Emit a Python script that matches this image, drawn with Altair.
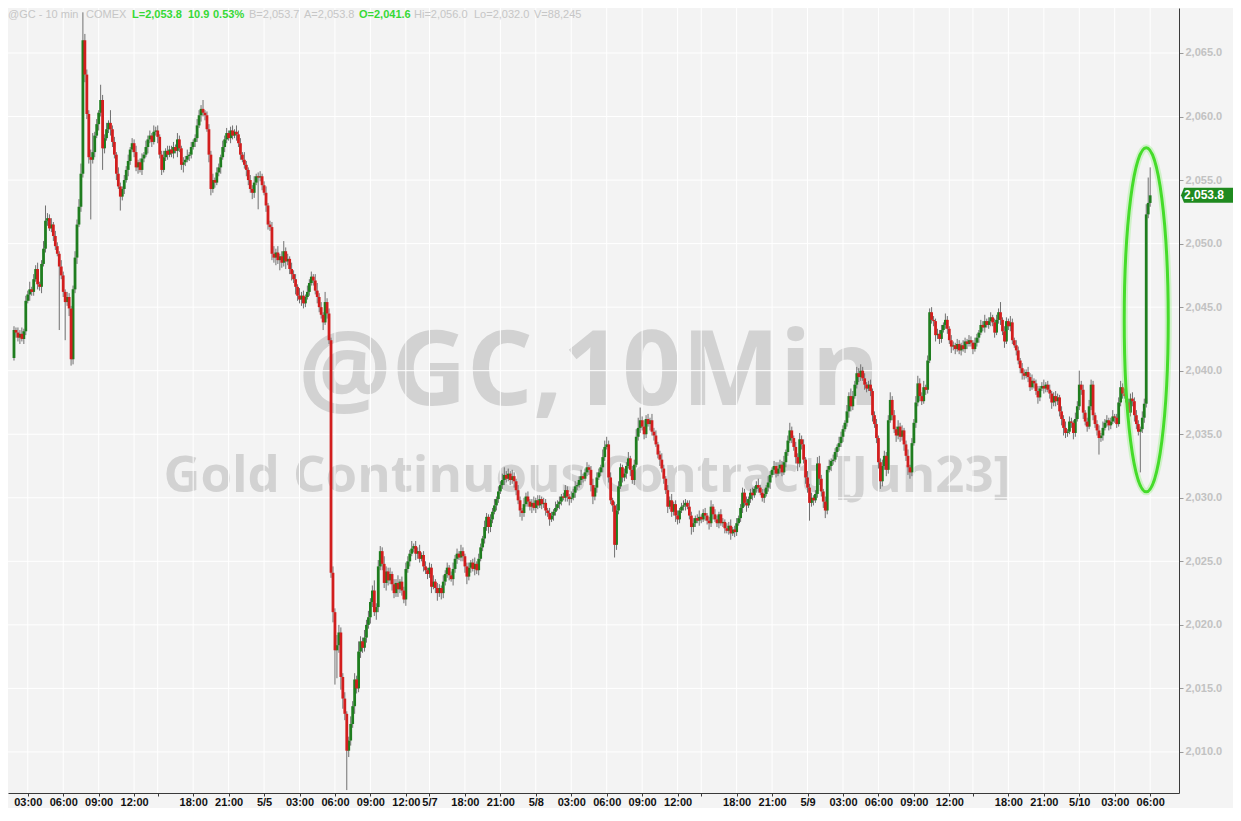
import altair as alt
import pandas as pd

# ---------------- data ----------------
first_open = 2041.0
closes = [
    2043.2, 2043.0, 2042.6, 2042.9, 2042.5, 2043.1, 2045.5, 2046.0, 2046.4, 2046.2,
    2047.2, 2048.0, 2046.8, 2046.6, 2048.4, 2049.6, 2051.8, 2052.0, 2051.2, 2051.5,
    2050.6, 2049.8, 2049.2, 2048.2, 2047.5, 2046.2, 2045.4, 2045.8, 2044.9, 2040.9,
    2046.4, 2048.9, 2051.5, 2052.9, 2055.5, 2066.0, 2063.3, 2060.2, 2056.8, 2056.6,
    2057.2, 2058.5, 2059.4, 2060.3, 2061.3, 2057.5, 2058.3, 2059.0, 2059.5, 2059.0,
    2058.0, 2057.0, 2055.5, 2054.5, 2053.7, 2054.3, 2055.0, 2055.8, 2056.5, 2057.4,
    2057.9, 2057.2, 2056.0, 2056.4, 2055.8, 2056.7, 2057.0, 2057.6, 2058.2, 2058.5,
    2058.0, 2058.8, 2058.9, 2058.4, 2057.0, 2055.8, 2056.8, 2057.3, 2057.0, 2057.4,
    2057.1, 2057.6, 2057.3, 2058.2, 2057.5, 2056.2, 2056.4, 2056.6, 2056.9, 2057.0,
    2057.6, 2058.0, 2058.3, 2059.3, 2060.1, 2060.6, 2060.3, 2060.1, 2059.0, 2057.0,
    2054.3, 2055.0, 2054.8, 2055.6, 2056.0, 2056.8, 2057.6, 2058.2, 2058.7, 2058.3,
    2058.9, 2058.5, 2058.8, 2058.6, 2057.9, 2057.0, 2056.6, 2056.2, 2055.8, 2055.0,
    2054.3, 2054.0, 2054.8, 2055.3, 2055.2, 2055.3, 2054.6, 2054.0, 2053.0, 2051.5,
    2051.3, 2049.2, 2048.9, 2049.3, 2048.7, 2049.0, 2048.5, 2049.4, 2048.6, 2048.8,
    2048.0, 2047.6, 2047.2, 2046.6, 2045.9, 2045.6, 2045.9, 2045.3, 2045.8, 2046.2,
    2046.9, 2047.4, 2047.1, 2046.3, 2045.8, 2045.0, 2044.4, 2043.8, 2045.4, 2044.5,
    2042.4, 2024.1, 2021.0, 2018.0, 2018.4, 2019.4, 2015.9, 2014.2, 2013.0, 2010.1,
    2010.9, 2012.2, 2013.6, 2015.7, 2015.0, 2017.9, 2018.7, 2018.2, 2019.0, 2020.0,
    2020.6, 2021.8, 2022.7, 2021.0, 2021.4, 2024.6, 2025.8, 2024.8, 2023.3, 2024.2,
    2023.5, 2024.0, 2023.2, 2022.5, 2023.3, 2022.8, 2023.4, 2022.7, 2022.0, 2024.4,
    2025.0, 2025.6, 2026.0, 2026.2, 2025.6, 2025.8, 2025.2, 2025.5, 2024.6, 2024.3,
    2024.0, 2024.5, 2023.0, 2023.4, 2022.9, 2022.5, 2022.9, 2022.5, 2023.4, 2024.0,
    2024.5, 2023.9, 2023.6, 2024.4, 2025.2, 2025.6, 2025.3, 2025.8, 2025.4, 2024.6,
    2023.8, 2024.5, 2024.9, 2024.4, 2024.8, 2024.3, 2025.2, 2026.1, 2026.8, 2027.7,
    2028.5, 2027.7, 2028.3, 2028.9, 2029.4, 2029.9, 2030.5, 2031.0, 2031.4, 2031.8,
    2031.5, 2031.9, 2031.4, 2031.7, 2031.3, 2030.6, 2029.8, 2029.0, 2028.8, 2029.5,
    2030.1, 2029.7, 2029.3, 2029.6, 2029.2, 2029.8, 2029.4, 2029.9, 2029.5, 2029.6,
    2029.0, 2028.8, 2028.3, 2028.6, 2028.9, 2029.2, 2029.5, 2029.7, 2030.1, 2030.0,
    2030.6, 2030.1, 2029.9, 2030.0, 2030.4, 2030.9, 2031.0, 2031.4, 2031.7, 2031.5,
    2032.0, 2032.4, 2032.2, 2031.0, 2030.1, 2030.8, 2031.6, 2032.0, 2032.4, 2033.2,
    2034.0, 2034.2, 2031.6, 2029.8, 2029.4, 2026.3, 2029.0, 2030.9, 2032.4, 2031.6,
    2031.9, 2032.5, 2033.1, 2032.2, 2031.4, 2032.6, 2034.8, 2035.5, 2036.1, 2035.6,
    2035.0, 2036.2, 2035.8, 2036.1, 2035.2, 2034.9, 2034.2, 2033.4, 2033.0, 2032.3,
    2031.5, 2030.6, 2029.3, 2029.8, 2028.9, 2029.5, 2028.6, 2028.3, 2029.0, 2029.3,
    2029.4, 2029.6, 2029.3, 2028.6, 2027.7, 2028.0, 2028.4, 2028.2, 2028.5, 2028.3,
    2028.8, 2028.6, 2028.2, 2028.0, 2029.3, 2028.7, 2028.3, 2028.0, 2028.7, 2028.0,
    2028.1, 2027.6, 2027.4, 2027.8, 2027.2, 2027.5, 2027.3, 2028.0, 2028.4, 2029.2,
    2030.4, 2029.6, 2029.4, 2029.9, 2030.4, 2030.2, 2030.7, 2031.0, 2030.8, 2030.4,
    2030.0, 2030.3, 2030.8, 2031.2, 2031.8, 2032.2, 2032.5, 2031.9, 2032.3, 2032.6,
    2032.0, 2032.8, 2033.6, 2034.5, 2035.3, 2034.7, 2034.0, 2033.2, 2032.7, 2034.6,
    2034.2, 2033.0, 2031.6, 2030.8, 2029.6, 2030.0, 2029.8, 2030.3, 2032.7, 2031.5,
    2030.5, 2029.7, 2029.0, 2032.2, 2032.5, 2032.9, 2033.0, 2033.6, 2034.0, 2034.3,
    2034.8, 2035.4, 2035.9, 2036.8, 2038.0, 2037.2, 2038.0, 2038.9, 2039.8, 2039.5,
    2040.0, 2039.4, 2038.9, 2038.6, 2038.9, 2038.4, 2036.5, 2035.8, 2034.7, 2032.8,
    2031.3, 2032.5, 2033.3, 2032.2, 2036.1, 2037.7, 2036.5, 2035.4, 2034.9, 2035.6,
    2034.8, 2035.3, 2034.2, 2033.3, 2032.4, 2032.0, 2034.3, 2035.9, 2037.5, 2039.0,
    2038.0, 2037.6, 2038.7, 2038.5, 2040.8, 2044.6, 2044.0, 2043.9, 2042.8, 2042.9,
    2042.5, 2043.2, 2043.6, 2044.0, 2043.3, 2042.4, 2041.9, 2042.0, 2041.7, 2042.1,
    2041.6, 2042.0, 2041.7, 2042.3, 2042.1, 2042.4, 2042.2, 2041.7, 2042.2, 2042.6,
    2043.0, 2043.6, 2043.4, 2043.9, 2043.6, 2043.9, 2044.2, 2043.8, 2043.0, 2044.0,
    2044.6, 2044.0, 2043.1, 2042.3, 2043.9, 2043.5, 2043.8, 2042.4, 2042.0, 2041.6,
    2040.8, 2040.2, 2039.8, 2039.6, 2039.9, 2039.5, 2038.7, 2039.2, 2039.0, 2038.4,
    2037.9, 2038.6, 2038.8, 2038.6, 2038.9, 2038.5, 2038.2, 2037.5, 2038.0, 2037.6,
    2037.9, 2036.8, 2036.2, 2035.5, 2035.1, 2035.2, 2036.0, 2035.9, 2035.1, 2036.2,
    2037.2, 2038.9, 2038.5, 2036.7, 2036.0, 2035.6, 2037.2, 2038.9, 2036.5, 2035.8,
    2035.3, 2034.7, 2034.9, 2035.5, 2035.9, 2036.1, 2035.7, 2036.0, 2036.4, 2036.3,
    2035.8, 2037.5, 2038.7, 2038.2, 2038.0, 2037.5, 2036.7, 2037.8, 2037.6, 2036.5,
    2035.8, 2035.2, 2035.4, 2036.3, 2037.4, 2052.3, 2053.2, 2053.8,
]
# wick lengths above / below the candle body, in tenths of a dollar
wick_up = [
    3, 2, 4, 3, 5, 2, 4, 3, 6, 2,
    4, 3, 5, 2, 3, 6, 12, 4, 3, 5,
    2, 4, 3, 2, 5, 3, 2, 4, 3, 2,
    3, 5, 4, 6, 8, 22, 5, 4, 3, 6,
    15, 3, 4, 2, 12, 4, 3, 5, 2, 10,
    3, 4, 2, 5, 3, 2, 4, 3, 5, 2,
    4, 3, 5, 2, 3, 4, 2, 5, 3, 4,
    2, 5, 3, 4, 2, 3, 5, 2, 4, 3,
    3, 4, 2, 5, 3, 2, 4, 3, 5, 2,
    4, 2, 3, 5, 4, 3, 7, 2, 3, 4,
    3, 5, 2, 4, 3, 2, 5, 3, 4, 2,
    3, 4, 2, 5, 3, 4, 2, 6, 3, 2,
    4, 3, 5, 2, 3, 4, 2, 3, 5, 2,
    3, 4, 6, 3, 5, 2, 4, 8, 3, 4,
    2, 5, 3, 4, 2, 6, 3, 4, 2, 5,
    3, 4, 2, 5, 6, 3, 4, 2, 8, 3,
    4, 2, 5, 3, 8, 6, 4, 3, 5, 2,
    3, 6, 4, 5, 3, 8, 4, 3, 6, 4,
    5, 3, 4, 8, 3, 5, 4, 3, 6, 4,
    3, 5, 2, 4, 3, 6, 2, 4, 3, 5,
    4, 3, 6, 2, 4, 3, 5, 2, 3, 4,
    2, 4, 3, 5, 2, 4, 3, 2, 5, 3,
    4, 2, 3, 5, 3, 4, 2, 5, 3, 2,
    3, 4, 2, 3, 5, 2, 4, 3, 2, 5,
    3, 2, 4, 3, 5, 2, 4, 3, 5, 6,
    3, 4, 2, 5, 3, 2, 4, 3, 2, 5,
    3, 4, 2, 3, 5, 2, 4, 3, 2, 4,
    3, 2, 4, 3, 2, 5, 3, 4, 2, 3,
    4, 3, 2, 5, 3, 4, 2, 3, 5, 2,
    3, 4, 2, 3, 5, 2, 4, 3, 2, 6,
    5, 6, 3, 4, 2, 3, 5, 4, 3, 2,
    4, 3, 5, 2, 3, 4, 6, 8, 10, 3,
    5, 3, 4, 2, 5, 3, 4, 2, 3, 5,
    3, 2, 4, 3, 5, 2, 3, 4, 2, 3,
    4, 3, 2, 5, 3, 4, 2, 3, 5, 2,
    3, 4, 2, 3, 5, 2, 4, 3, 2, 4,
    3, 2, 4, 3, 5, 2, 3, 4, 2, 3,
    4, 3, 5, 2, 3, 4, 2, 3, 5, 2,
    3, 4, 2, 5, 3, 2, 4, 3, 5, 4,
    3, 5, 2, 4, 6, 3, 2, 4, 3, 5,
    3, 4, 2, 5, 3, 4, 2, 3, 5, 6,
    3, 2, 4, 3, 5, 2, 4, 3, 2, 5,
    4, 3, 2, 5, 3, 6, 4, 3, 5, 4,
    5, 3, 4, 2, 3, 4, 2, 3, 4, 2,
    3, 5, 4, 3, 4, 6, 3, 4, 2, 5,
    3, 4, 2, 3, 5, 2, 4, 3, 5, 6,
    4, 3, 5, 2, 4, 3, 4, 3, 2, 4,
    3, 4, 2, 5, 3, 2, 4, 3, 2, 4,
    3, 2, 4, 3, 2, 4, 3, 2, 4, 3,
    2, 4, 3, 5, 2, 3, 4, 2, 3, 4,
    3, 8, 2, 4, 3, 2, 5, 3, 2, 4,
    3, 2, 4, 3, 2, 4, 3, 5, 2, 3,
    4, 2, 3, 5, 2, 3, 4, 2, 3, 4,
    3, 2, 4, 3, 5, 2, 4, 3, 2, 5,
    4, 11, 3, 4, 2, 3, 5, 4, 3, 2,
    3, 4, 2, 5, 3, 4, 2, 3, 5, 2,
    3, 4, 5, 3, 4, 2, 3, 4, 5, 3,
    4, 3, 2, 5, 4, 8, 20, 22,
]
wick_dn = [
    2, 4, 3, 5, 2, 4, 3, 2, 5, 3,
    3, 2, 4, 3, 5, 2, 3, 4, 2, 3,
    4, 3, 2, 50, 3, 4, 30, 3, 6, 5,
    4, 3, 5, 2, 4, 3, 6, 4, 5, 47,
    3, 4, 2, 5, 3, 17, 4, 2, 3, 5,
    4, 3, 5, 2, 11, 3, 4, 2, 5, 3,
    2, 4, 3, 5, 2, 4, 3, 2, 5, 3,
    4, 2, 3, 5, 3, 4, 2, 3, 4, 2,
    3, 4, 2, 5, 3, 4, 6, 3, 2, 4,
    3, 2, 4, 3, 2, 5, 3, 4, 2, 6,
    5, 3, 4, 2, 3, 5, 2, 4, 3, 2,
    4, 3, 2, 5, 3, 4, 2, 3, 5, 4,
    3, 5, 4, 2, 25, 3, 4, 2, 5, 4,
    3, 5, 4, 6, 3, 8, 4, 3, 6, 3,
    4, 5, 3, 6, 4, 3, 5, 4, 3, 2,
    3, 2, 4, 3, 5, 4, 3, 6, 2, 4,
    3, 4, 8, 27, 22, 6, 10, 8, 5, 31,
    5, 4, 3, 6, 4, 3, 5, 4, 3, 4,
    3, 5, 4, 3, 6, 4, 3, 5, 4, 6,
    4, 3, 5, 4, 3, 6, 3, 4, 3, 5,
    3, 4, 2, 3, 5, 4, 3, 2, 4, 3,
    4, 3, 5, 2, 4, 6, 3, 5, 4, 3,
    3, 4, 2, 5, 3, 4, 2, 3, 4, 5,
    6, 3, 4, 2, 5, 3, 4, 2, 3, 4,
    3, 5, 4, 3, 2, 4, 3, 2, 3, 4,
    3, 2, 4, 3, 5, 4, 3, 5, 6, 3,
    2, 4, 3, 5, 2, 4, 3, 2, 4, 3,
    4, 3, 5, 2, 4, 3, 2, 4, 3, 2,
    3, 4, 5, 3, 2, 4, 3, 2, 4, 3,
    2, 3, 4, 5, 6, 3, 4, 2, 3, 4,
    3, 2, 4, 3, 5, 10, 4, 3, 2, 4,
    3, 4, 2, 5, 3, 4, 2, 3, 4, 3,
    4, 3, 2, 5, 3, 4, 2, 3, 5, 3,
    4, 3, 5, 2, 4, 3, 5, 4, 3, 2,
    3, 4, 2, 3, 6, 4, 3, 2, 4, 3,
    2, 4, 3, 5, 3, 4, 2, 3, 4, 2,
    3, 4, 2, 3, 5, 2, 4, 3, 2, 3,
    4, 3, 5, 2, 3, 4, 2, 3, 4, 2,
    3, 4, 2, 3, 5, 2, 4, 3, 2, 4,
    3, 2, 4, 3, 2, 4, 3, 5, 6, 3,
    4, 3, 5, 4, 14, 3, 4, 2, 3, 5,
    4, 5, 6, 3, 2, 4, 3, 2, 4, 3,
    3, 4, 2, 3, 5, 4, 3, 2, 3, 4,
    3, 2, 4, 3, 2, 4, 5, 3, 4, 5,
    6, 4, 3, 5, 3, 2, 4, 3, 5, 3,
    4, 3, 5, 4, 6, 5, 3, 2, 4, 3,
    4, 3, 2, 4, 3, 2, 3, 4, 5, 3,
    4, 3, 2, 3, 4, 3, 5, 3, 4, 2,
    3, 4, 2, 3, 4, 2, 3, 4, 2, 3,
    4, 2, 3, 4, 2, 3, 4, 3, 4, 2,
    3, 4, 3, 5, 2, 3, 4, 3, 2, 4,
    3, 4, 5, 3, 2, 4, 3, 2, 4, 3,
    5, 3, 2, 4, 3, 2, 4, 5, 3, 4,
    3, 4, 5, 6, 4, 3, 2, 4, 5, 3,
    2, 3, 4, 5, 3, 4, 2, 3, 4, 3,
    4, 13, 3, 4, 2, 3, 4, 3, 2, 4,
    3, 2, 3, 4, 2, 3, 5, 3, 4, 5,
    4, 3, 32, 3, 4, 3, 3, 3,
]

tick_bars = [7, 25, 43, 61, 73, 91, 109, 127, 145, 163, 181, 199, 211, 229, 247, 265, 283,
             301, 319, 337, 349, 367, 385, 403, 421, 439, 457, 475, 487, 505, 523, 541, 559, 577]
tick_labels = ["03:00", "06:00", "09:00", "12:00", "", "18:00", "21:00", "5/5",
               "03:00", "06:00", "09:00", "12:00", "5/7", "18:00", "21:00", "5/8",
               "03:00", "06:00", "09:00", "12:00", "", "18:00", "21:00", "5/9",
               "03:00", "06:00", "09:00", "12:00", "", "18:00", "21:00", "5/10",
               "03:00", "06:00"]
price_ticks = [2010, 2015, 2020, 2025, 2030, 2035, 2040, 2045, 2050, 2055, 2060, 2065]

watermark_big = ["@GC,10Min"]
watermark_small = ["Gold Continuous Contract [Jun23]"]
header_info = ["@GC - 10 min", "COMEX", "B=2,053.7", "A=2,053.8", "Hi=2,056.0",
               "Lo=2,032.0", "V=88,245"]
header_quote = ["L=2,053.8", "10.9", "0.53%", "O=2,041.6"]
highlight_bar = [575]
highlight_price = [2044.0]

# ---------------- layout / style ----------------
header_info_x = [0, 78, 241, 296, 406, 466, 526]
header_quote_x = [124, 180, 205, 351]
W, H = 1171, 785
x_scale = alt.Scale(domain=[-0.5, 589.1], nice=False, zero=False)
y_scale = alt.Scale(domain=[2006.77, 2068.54], nice=False, zero=False)
GREEN, RED = "#1f7d1f", "#d21e1e"

opens = [first_open] + closes[:-1]
df = pd.DataFrame({"bar": list(range(len(closes))), "open": opens, "close": closes,
                   "up": wick_up, "dn": wick_dn})
df["high"] = df[["open", "close"]].max(axis=1) + df["up"] / 10.0
df["low"] = df[["open", "close"]].min(axis=1) - df["dn"] / 10.0
df_up = df[df["close"] >= df["open"]]
df_dn = df[df["close"] < df["open"]]

label_expr = "[" + ",".join("'%s'" % s for s in tick_labels) + "][indexof([" + \
    ",".join(str(b) for b in tick_bars) + "], datum.value)]"

x_axis = alt.Axis(values=tick_bars, labelExpr=label_expr, grid=False, domainColor="#3a3a3a",
                  tickColor="#3a3a3a", tickSize=3, labelColor="#111111",
                  labelFont="Liberation Sans", labelFontSize=11, labelFontWeight="bold",
                  labelPadding=0, title=None, labelOverlap=False, labelFlush=False)
y_axis = alt.Axis(orient="right", values=price_ticks, format=",.1f", grid=False,
                  domainColor="#3a3a3a", tickColor="#9a9a9a", tickSize=4,
                  labelColor="#c2c2c2", labelFont="Liberation Sans", labelFontSize=11,
                  labelFontWeight="bold", labelPadding=2, title=None)


def X(field):
    return alt.X(field, type="quantitative", scale=x_scale, axis=x_axis)


def Y(field):
    return alt.Y(field, type="quantitative", scale=y_scale, axis=y_axis)


# watermark
wm1 = alt.Chart(pd.DataFrame({"t": watermark_big})).mark_text(
    font="Open Sans", fontWeight="bold", fontSize=104, color="#d2d2d2",
    align="center", baseline="alphabetic").encode(
    x=alt.value(581), y=alt.value(397), text="t:N")
wm2 = alt.Chart(pd.DataFrame({"t": watermark_small})).mark_text(
    font="Open Sans", fontWeight="bold", fontSize=51, color="#d2d2d2",
    align="center", baseline="alphabetic").encode(
    x=alt.value(579), y=alt.value(484), text="t:N")

# gridlines (drawn over the watermark, under the candles)
vgrid = alt.Chart(pd.DataFrame({"bar": tick_bars})).mark_rule(
    color="white", strokeWidth=1).encode(x=X("bar"))
hgrid = alt.Chart(pd.DataFrame({"p": price_ticks})).mark_rule(
    color="white", strokeWidth=1).encode(y=Y("p"))

wicks = alt.Chart(df).mark_rule(color="#707070", strokeWidth=1).encode(
    x=X("bar"), y=Y("low"), y2="high")
bodies_up = alt.Chart(df_up).mark_bar(size=2.8, color=GREEN).encode(
    x=X("bar"), y=Y("open"), y2="close")
bodies_dn = alt.Chart(df_dn).mark_bar(size=2.8, color=RED).encode(
    x=X("bar"), y=Y("open"), y2="close")

# highlight ellipse around the final spike
ell_path = ("M 0 -1 C 0.0707 -1 0.128 -0.5523 0.128 0 C 0.128 0.5523 0.0707 1 0 1 "
            "C -0.0707 1 -0.128 0.5523 -0.128 0 C -0.128 -0.5523 -0.0707 -1 0 -1 Z")
hl_df = pd.DataFrame({"bar": highlight_bar, "price": highlight_price})
glow = alt.Chart(hl_df).mark_point(shape=ell_path, size=118336, filled=False,
                                   stroke="#8ef07a", strokeWidth=7, opacity=0.35).encode(
    x=X("bar"), y=Y("price"))
ellipse = alt.Chart(hl_df).mark_point(shape=ell_path, size=118336, filled=False,
                                      stroke="#45dc2a", strokeWidth=3, opacity=1).encode(
    x=X("bar"), y=Y("price"))

# last price tag on the right axis
tag_df = pd.DataFrame({"price": [closes[-1]]})
tag_path = "M -1 0 L -0.9 -0.25 L 1 -0.25 L 1 0.25 L -0.9 0.25 Z"
tag = alt.Chart(tag_df).mark_point(shape=tag_path, size=3600, filled=True,
                                   color="#1f8a1f", opacity=1, strokeWidth=0).encode(
    x=alt.value(1203), y=Y("price"))
tag_txt = alt.Chart(tag_df).mark_text(align="left", baseline="middle", color="white",
                                      font="Liberation Sans", fontWeight="bold",
                                      fontSize=12).encode(
    x=alt.value(1176), y=Y("price"),
    text=alt.Text("price:Q", format=",.1f"))

# header line
hdr_info = alt.Chart(pd.DataFrame({"t": header_info, "x": header_info_x})).mark_text(
    align="left", baseline="top", font="Liberation Sans", fontSize=11,
    color="#c6c6c6").encode(x=alt.X("x:Q", scale=None, axis=None), y=alt.value(1), text="t:N")
hdr_quote = alt.Chart(pd.DataFrame({"t": header_quote, "x": header_quote_x})).mark_text(
    align="left", baseline="top", font="Liberation Sans", fontSize=11, fontWeight="bold",
    color="#36d936").encode(x=alt.X("x:Q", scale=None, axis=None), y=alt.value(1), text="t:N")

chart = alt.layer(wm1, wm2, vgrid, hgrid, wicks, bodies_up, bodies_dn, glow, ellipse,
                  tag, tag_txt, hdr_info, hdr_quote).properties(
    width=W, height=H,
    padding={"left": 0, "top": 0, "right": 54, "bottom": 15},
    autosize=alt.AutoSizeParams(type="none"),
    background="#f4f4f4",
).configure_view(fill="#f3f3f3", stroke=None)

chart.save("out.html", embed_options={"renderer": "svg", "actions": False})
